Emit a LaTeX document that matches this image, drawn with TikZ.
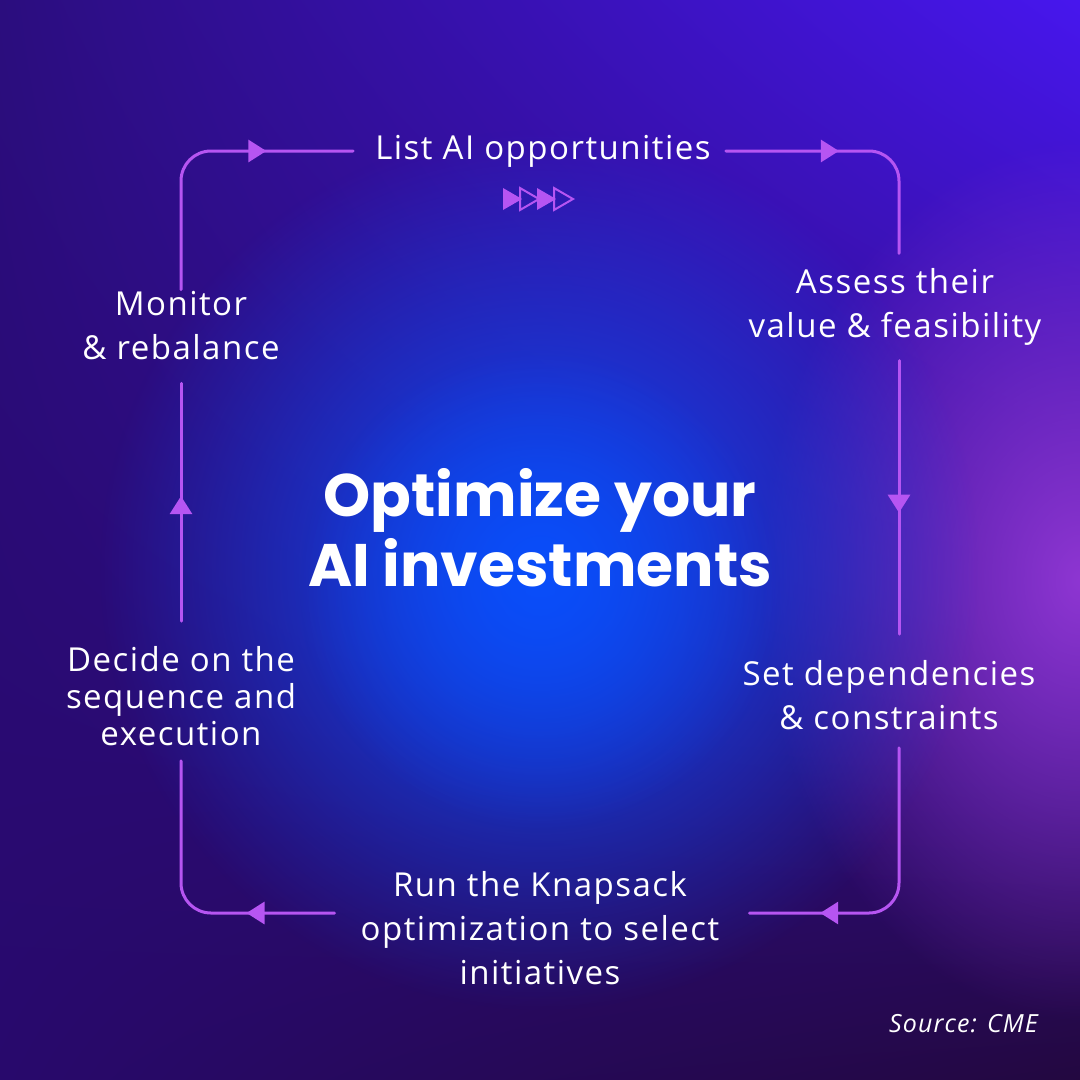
\documentclass[tikz,border=0pt]{standalone}
\usepackage{fontspec}
\setmainfont{Open Sans}[LetterSpace=4.5]
\newfontfamily\titlefont{Poppins}[UprightFont=* Bold]
\usetikzlibrary{arrows.meta, decorations.markings, fadings, shadings}

\definecolor{flowc}{HTML}{B655F2}
\definecolor{bgtl}{HTML}{2B0D7E}
\definecolor{bgtr}{HTML}{4716EE}
\definecolor{bgbl}{HTML}{28096C}
\definecolor{bgbr}{HTML}{230840}
\definecolor{glowblue}{HTML}{0A4EFA}
\definecolor{glowpurple}{HTML}{8E36D2}

\tikzfading[name=glowfade, inner color=transparent!0, outer color=transparent!100]

\tikzset{
  flow/.style={draw=flowc, line width=3pt, rounded corners=30pt},
  tipat/.style={postaction={decorate, decoration={markings,
      mark=at position #1 with {\arrow{Triangle[length=18pt, width=22pt]}}}}},
  lbl/.style={text=white, align=center, inner sep=0pt,
    font=\fontsize{33}{44}\selectfont},
  ttl/.style={text=white, align=center, inner sep=0pt,
    font=\titlefont\fontsize{60}{70}\selectfont},
}

\begin{document}
\begin{tikzpicture}[x=1pt, y=-1pt, line cap=round, line join=round]
  % Background
  \useasboundingbox (0,0) rectangle (1080,1080);
  \shade[upper left=bgtl, upper right=bgtr, lower left=bgbl, lower right=bgbr]
    (0,0) rectangle (1080,1080);
  \fill[glowpurple, path fading=glowfade, fit fading=true] (1080,580) ellipse (320 and 440);
  \fill[glowblue, path fading=glowfade, fit fading=true] (540,570) circle (440);
  \fill[glowblue, path fading=glowfade, fit fading=true, opacity=0.8] (540,590) circle (240);

  % Title
  \node[ttl] (title) at (540,528) {Optimize your\\AI investments};

  % Steps
  \node[lbl] (list) at (543,151) {List AI opportunities};
  \node[lbl] (ass)  at (895,307) {Assess their\\value \& feasibility};
  \node[lbl] (set)  at (889,695) {Set dependencies\\\& constraints};
  \node[lbl] (run)  at (540,928) {Run the Knapsack\\optimization to select\\initiatives};
  \node[lbl, font=\fontsize{33}{37}\selectfont] (dec) at (181,696)
    {Decide on the\\sequence and\\execution};
  \node[lbl] (mon)  at (181,326) {Monitor\\\& rebalance};

  % Connectors
  \draw[flow, tipat=213pt, shorten <=2pt, shorten >=22pt] (mon.north) |- (list.west);
  \draw[flow, tipat=128pt, shorten <=15pt, shorten >=15pt]
    (list.east) -| ([xshift=4pt]ass.north);
  \draw[flow, tipat=167pt, shorten <=15pt, shorten >=26pt]
    ([xshift=4pt]ass.south) -- ([xshift=10pt]set.north);
  \draw[flow, tipat=249pt, shorten <=18pt, shorten >=30pt]
    ([xshift=10pt]set.south) |- ([yshift=15pt]run.east);
  \draw[flow, tipat=114pt, shorten <=26pt, shorten >=15pt]
    ([yshift=15pt]run.west) -| (dec.south);
  \draw[flow, tipat=150pt, shorten <=25pt, shorten >=23pt] (dec.north) -- (mon.south);

  % Progress marks under the first step
  \foreach \i in {0,...,3} {
    \pgfmathsetmacro{\xs}{503+17*\i}
    \ifodd\i
      \draw[flowc, line width=2pt, line join=miter]
        (\xs,188) -- (\xs,210) -- (\xs+19,199) -- cycle;
    \else
      \fill[flowc] (\xs,188) -- (\xs,210) -- (\xs+19,199) -- cycle;
    \fi
  }

  % Source
  \node[text=white, anchor=east, inner sep=0pt,
    font=\itshape\fontsize{25}{28}\selectfont] (src) at (1038,1024) {Source: CME};
\end{tikzpicture}
\end{document}
